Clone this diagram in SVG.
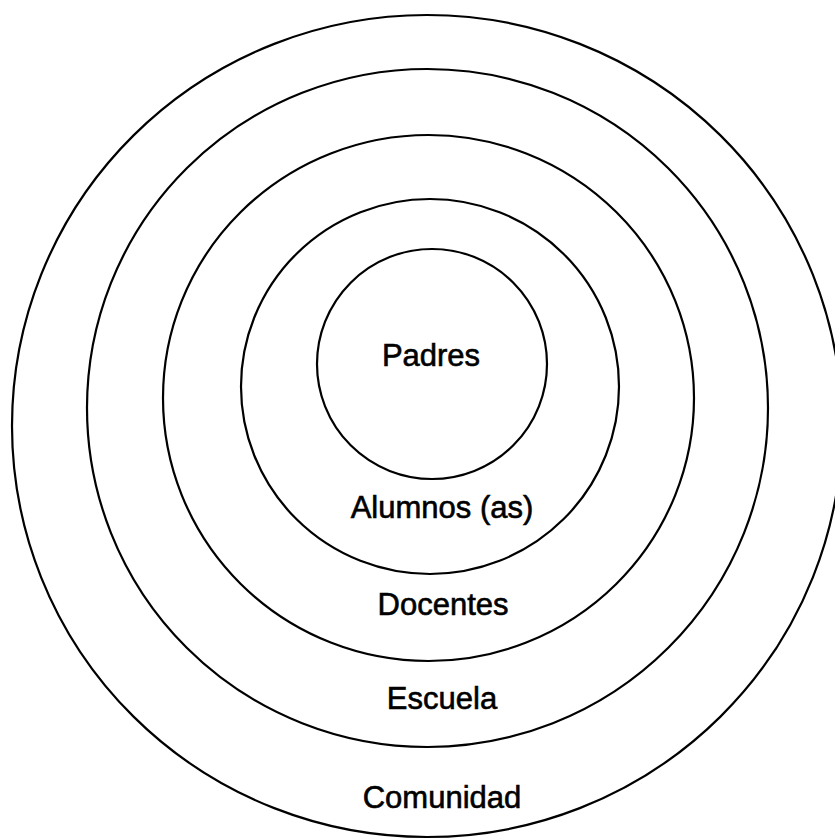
<svg xmlns="http://www.w3.org/2000/svg" width="835" height="840" viewBox="0 0 835 840">
<style>
.ring{fill:none;stroke:#000;stroke-width:2.2}
.lbl{font-family:"Liberation Sans",Arial,sans-serif;font-size:31px;fill:#000;stroke:#000;stroke-width:0.6;text-anchor:middle}
</style>
<rect width="835" height="840" fill="#fff"/>
<g id="comunidad">
<ellipse class="ring" cx="427" cy="426" rx="415" ry="411"/>
<text class="lbl" x="442" y="808">Comunidad</text>
</g>
<g id="escuela">
<ellipse class="ring" cx="427.5" cy="408" rx="340.5" ry="339"/>
<text class="lbl" x="442" y="709">Escuela</text>
</g>
<g id="docentes">
<ellipse class="ring" cx="428.5" cy="398" rx="265.5" ry="263"/>
<text class="lbl" x="443" y="615">Docentes</text>
</g>
<g id="alumnos">
<ellipse class="ring" cx="430" cy="386.5" rx="189" ry="187.5"/>
<text class="lbl" x="442" y="518">Alumnos (as)</text>
</g>
<g id="padres">
<circle class="ring" cx="432" cy="364" r="115"/>
<text class="lbl" x="431" y="366">Padres</text>
</g>
<g id="connectors"/>
</svg>
